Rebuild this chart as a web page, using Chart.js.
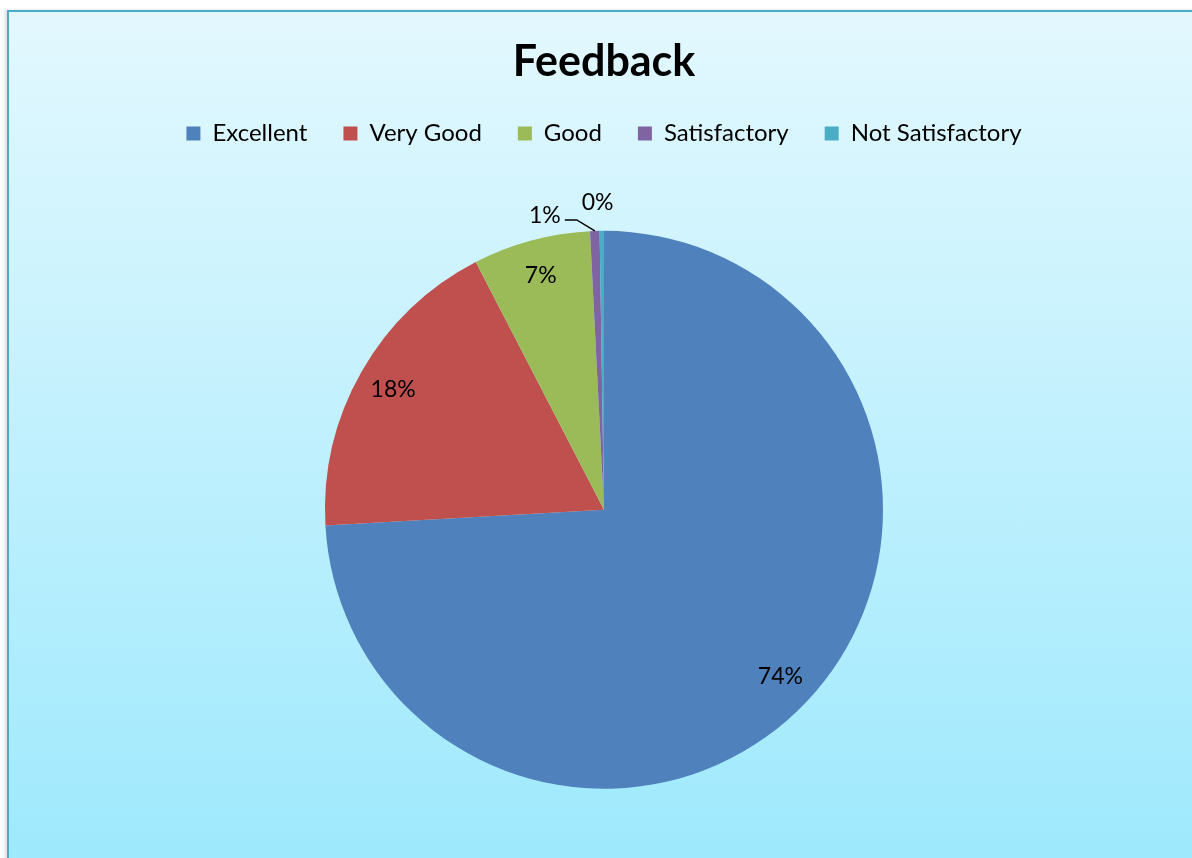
<!DOCTYPE html>
<html>
<head>
<meta charset="utf-8">
<script src="https://cdn.jsdelivr.net/npm/chart.js@4.4.1/dist/chart.umd.min.js"></script>
<style>
  html, body { margin: 0; padding: 0; width: 1192px; height: 858px; overflow: hidden; background: #fff; }
  #moldura {
    position: absolute; left: 7px; top: 10px; width: 1300px; height: 850px;
    border-left: 2px solid #4bacc6; border-top: 2px solid #4bacc6;
    background: linear-gradient(to bottom, #e3f8fe 0%, #9ee9fd 100%);
    box-shadow: -2px 0 3px rgba(0, 0, 0, 0.15);
  }
  #area { position: absolute; left: 0; top: 0; width: 1192px; height: 858px; }
</style>
</head>
<body>
<div id="moldura"></div>
<div id="area"><canvas id="graficoPizza"></canvas></div>
<script>
const categorias = ["Excellent", "Very Good", "Good", "Satisfactory", "Not Satisfactory"];
const valores = [74.1, 18.3, 6.8, 0.55, 0.25];
const rotulos = ["74%", "18%", "7%", "1%", "0%"];
const cores = ["#4f81bd", "#c0504d", "#9bbb59", "#8064a2", "#4bacc6"];

// aumenta o espaço abaixo da legenda
const espacoLegenda = {
  id: "espacoLegenda",
  beforeInit(chart) {
    const fitOriginal = chart.legend.fit;
    chart.legend.fit = function () {
      fitOriginal.bind(chart.legend)();
      this.height += 44;
    };
  }
};

// rótulos de porcentagem
const rotulosPizza = {
  id: "rotulosPizza",
  afterDatasetsDraw(chart) {
    const ctx = chart.ctx;
    const arcos = chart.getDatasetMeta(0).data;
    ctx.save();
    ctx.font = "23px Lato";
    ctx.fillStyle = "#000";
    ctx.textAlign = "center";
    ctx.textBaseline = "middle";
    arcos.forEach((arco, i) => {
      const p = arco.getProps(["x", "y", "startAngle", "endAngle", "outerRadius"], true);
      const meio = (p.startAngle + p.endAngle) / 2;
      const ex = p.x + Math.cos(meio) * p.outerRadius;
      const ey = p.y + Math.sin(meio) * p.outerRadius;
      let lx, ly;
      if (i === 3) {
        // rótulo deslocado com linha de chamada
        ctx.strokeStyle = "#000";
        ctx.lineWidth = 1.5;
        ctx.beginPath();
        ctx.moveTo(ex, ey);
        ctx.lineTo(ex - 18, ey - 11);
        ctx.lineTo(ex - 30, ey - 11);
        ctx.stroke();
        lx = ex - 50;
        ly = ey - 15;
      } else if (valores[i] < 1) {
        lx = p.x + Math.cos(meio) * (p.outerRadius + 28) - 4;
        ly = p.y + Math.sin(meio) * (p.outerRadius + 28);
      } else {
        lx = p.x + Math.cos(meio) * p.outerRadius * 0.87;
        ly = p.y + Math.sin(meio) * p.outerRadius * 0.87;
      }
      ctx.fillText(rotulos[i], lx, ly);
    });
    ctx.restore();
  }
};

new Chart(document.getElementById("graficoPizza"), {
  type: "pie",
  data: {
    labels: categorias,
    datasets: [{
      data: valores,
      backgroundColor: cores,
      borderWidth: 0,
      radius: 279
    }]
  },
  options: {
    responsive: true,
    maintainAspectRatio: false,
    animation: false,
    layout: { padding: { left: 16, right: 0, top: 0, bottom: 38 } },
    plugins: {
      tooltip: { enabled: false },
      title: {
        display: true,
        text: "Feedback",
        color: "#000",
        font: { family: "Lato", size: 43, weight: "bold" },
        padding: { top: 36, bottom: -2 }
      },
      legend: {
        position: "top",
        labels: {
          color: "#000",
          font: { family: "Lato", size: 24 },
          boxWidth: 14,
          boxHeight: 14,
          padding: 36
        }
      }
    }
  },
  plugins: [espacoLegenda, rotulosPizza]
});
</script>
</body>
</html>
